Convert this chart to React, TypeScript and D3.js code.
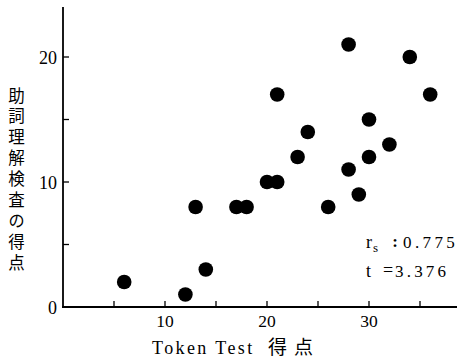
import React from "react";
import * as d3 from "d3";

const tokenScores = [6, 12, 13, 14, 17, 18, 20, 21, 21, 23, 24, 26, 28, 28, 29, 30, 30, 32, 34, 36];
const particleScores = [2, 1, 8, 3, 8, 8, 10, 10, 17, 12, 14, 8, 21, 11, 9, 15, 12, 13, 20, 17];
const xMajorTicks = [10, 20, 30];
const xMinorTicks = [5, 15, 25, 35];
const yMajorTicks = [0, 10, 20];
const yMinorTicks = [5, 15];
const yLabel = "助詞理解検査の得点";
const xLabelLatin = "Token Test";
const xLabelCjk = "得点";
const rsValue = "0.775";
const tValue = "3.376";

const W = 457;
const H = 360;
const SERIF = "'Liberation Serif', 'DejaVu Serif', serif";
const CJK = "'Noto Sans CJK JP', sans-serif";

export default function App() {
  const x = d3.scaleLinear().domain([0, 10]).range([63, 165]);
  const y = d3.scaleLinear().domain([0, 10]).range([307, 182]);
  const x0 = x(0);
  const y0 = y(0);
  const data = tokenScores.map((t, i) => ({ t, p: particleScores[i] }));

  return (
    <svg
      width={W}
      height={H}
      style={{ position: "absolute", left: 0, top: 0, background: "#fff" }}
    >
      <rect width={W} height={H} fill="#fff" />
      {/* axes */}
      <line x1={x0} x2={x0} y1={7} y2={y0 + 1} stroke="#000" strokeWidth={1.8} />
      <line x1={x0 - 1} x2={W} y1={y0} y2={y0} stroke="#000" strokeWidth={1.8} />
      {/* x ticks */}
      {[...xMajorTicks, ...xMinorTicks].map((v) => (
        <line key={"xt" + v} x1={x(v)} x2={x(v)} y1={y0} y2={y0 - 6} stroke="#000" strokeWidth={1.3} />
      ))}
      {xMajorTicks.map((v) => (
        <text key={"xl" + v} x={x(v)} y={y0 + 20} textAnchor="middle" fontFamily={SERIF} fontSize={17.5}>
          {v}
        </text>
      ))}
      {/* y ticks */}
      {[...yMajorTicks.filter((v) => v > 0), ...yMinorTicks].map((v) => (
        <line key={"yt" + v} x1={x0} x2={x0 + 6} y1={y(v)} y2={y(v)} stroke="#000" strokeWidth={1.3} />
      ))}
      {yMajorTicks.map((v) => (
        <text key={"yl" + v} x={x0 - 6} y={y(v) + 7} textAnchor="end" fontFamily={SERIF} fontSize={18}>
          {v}
        </text>
      ))}
      {/* points */}
      {data.map((d, i) => (
        <circle key={i} cx={x(d.t)} cy={y(d.p)} r={7.3} fill="#000" />
      ))}
      {/* x label */}
      <text x={152} y={354} fontFamily={SERIF} fontSize={18} letterSpacing={2.4}>
        {xLabelLatin}
      </text>
      <text x={268} y={354} fontFamily={CJK} fontSize={19} letterSpacing={7}>
        {xLabelCjk}
      </text>
      {/* y label (vertical) */}
      <text
        x={16.5}
        y={87}
        fontFamily={CJK}
        fontSize={16.5}
        letterSpacing={4.4}
        style={{ writingMode: "vertical-rl" }}
      >
        {yLabel}
      </text>
      {/* annotation */}
      <text x={366} y={248} fontFamily={SERIF} fontSize={18}>r</text>
      <text x={373} y={252} fontFamily={SERIF} fontSize={13}>s</text>
      <text x={395} y={247} textAnchor="middle" fontFamily={SERIF} fontSize={17} fontWeight="bold">:</text>
      <text x={403} y={248} fontFamily={SERIF} fontSize={17} letterSpacing={3.4}>
        {rsValue}
      </text>
      <text x={366} y={277} fontFamily={SERIF} fontSize={18}>t</text>
      <text x={388} y={276} textAnchor="middle" fontFamily={SERIF} fontSize={18}>=</text>
      <text x={395} y={277} fontFamily={SERIF} fontSize={17} letterSpacing={3.2}>
        {tValue}
      </text>
    </svg>
  );
}
